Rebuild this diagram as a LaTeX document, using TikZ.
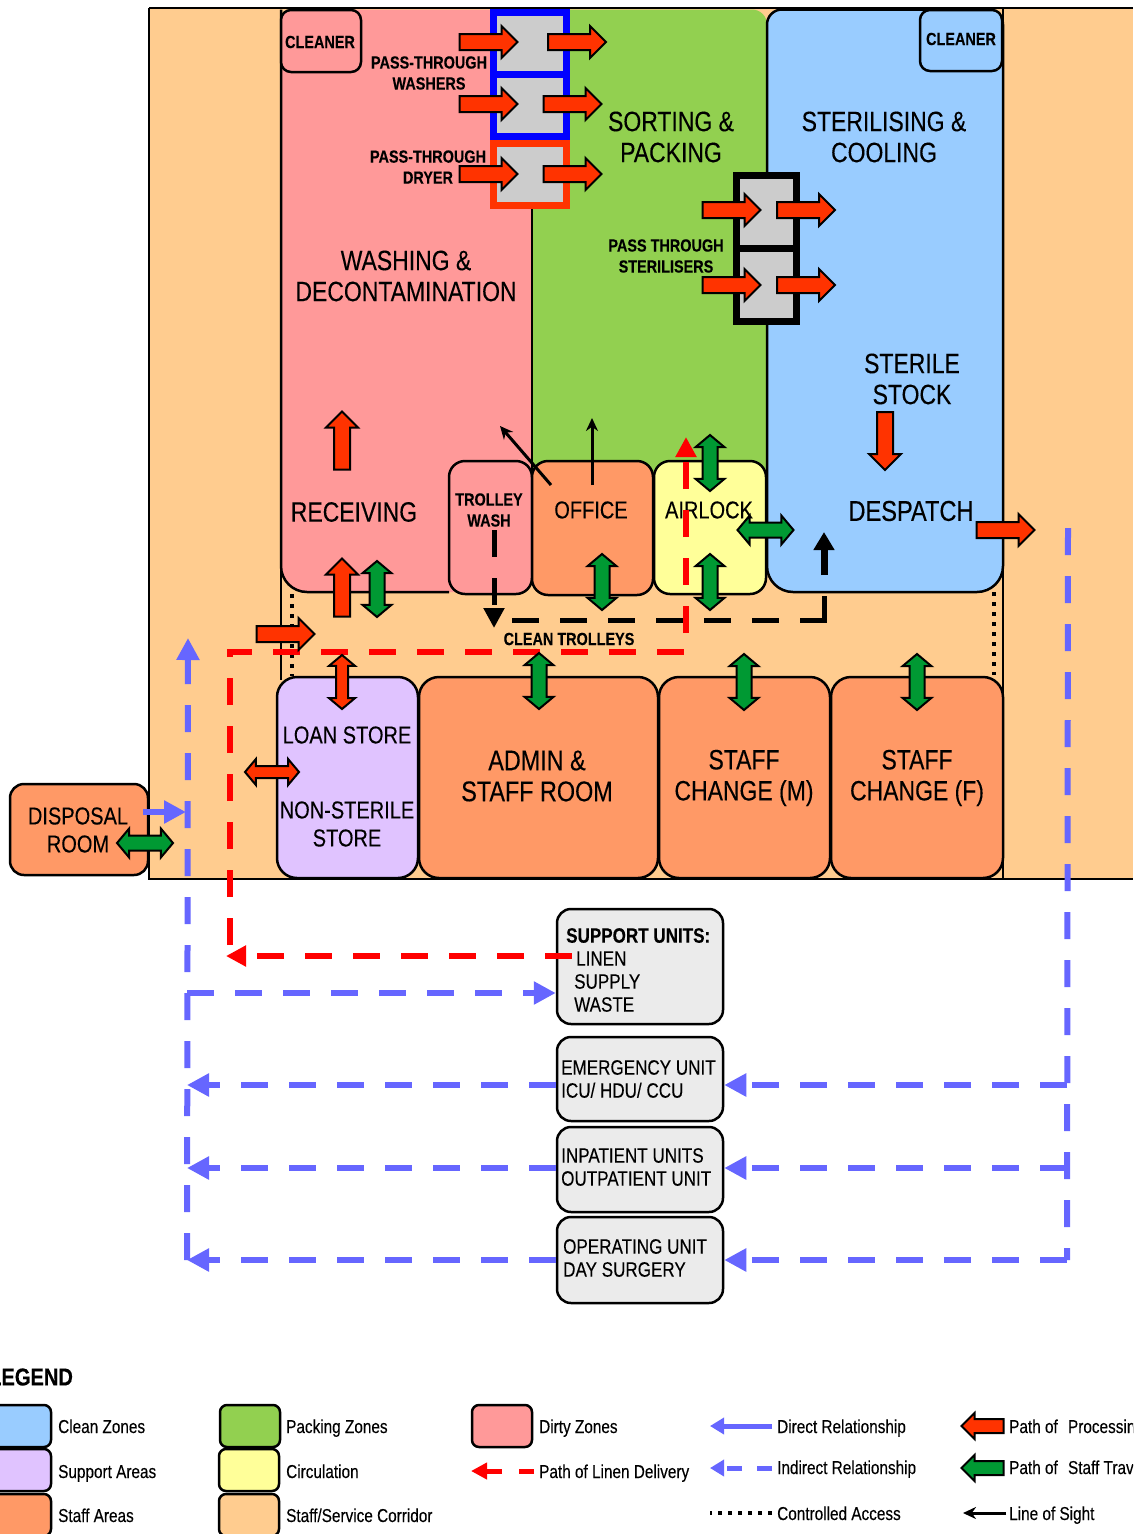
\documentclass[tikz,border=0pt]{standalone}
\usepackage{fontspec}
\setmainfont{Liberation Sans}[FakeStretch=0.82, FakeBold=0.2]
\usepackage{xcolor}
\usetikzlibrary{positioning, shapes.arrows, arrows.meta}
\definecolor{dirty}{HTML}{FF9999}
\definecolor{packing}{HTML}{92D050}
\definecolor{clean}{HTML}{99CCFF}
\definecolor{staff}{HTML}{FF9966}
\definecolor{circul}{HTML}{FFFF99}
\definecolor{support}{HTML}{E0C3FF}
\definecolor{corridor}{HTML}{FFCC8F}
\definecolor{process}{HTML}{FF3300}
\definecolor{travel}{HTML}{009933}
\definecolor{indirect}{HTML}{6666FF}

\begin{document}
\begin{tikzpicture}[
                x=1pt, y=-1pt,
                wall/.style={line width=2.5pt, black},
                room/.style={rectangle, draw=black, line width=2.5pt, rounded corners=20pt, inner sep=0pt},
                hatch_box/.style={rectangle, fill=black!20, line width=7pt, inner sep=0pt, minimum width=73pt},
                unit_box/.style={rectangle, draw=black, line width=2.5pt, rounded corners=14pt, fill=black!8, minimum width=166pt, inner sep=0pt},
                unit_text/.style={anchor=west, align=left, inner sep=0pt, font=\fontsize{20.8}{23}\selectfont},
                big_text/.style={align=center, inner sep=0pt, font=\fontsize{28}{31}\selectfont},
                mid_text/.style={align=center, inner sep=0pt, font=\fontsize{24.4}{30}\selectfont},
                small_text/.style={align=center, inner sep=0pt, font=\bfseries\fontsize{17.6}{21}\selectfont},
                key_text/.style={anchor=base west, inner sep=0pt, font=\fontsize{18.7}{20}\selectfont},
                key_box/.style={rectangle, draw=black, line width=2.5pt, rounded corners=7pt, minimum width=60pt, minimum height=42pt, inner sep=0pt},
                proc_arrow/.style={single arrow, draw=black, fill=process, line width=2pt, inner xsep=0pt, inner ysep=7pt, single arrow head extend=8pt, single arrow head indent=0pt, minimum height=58pt},
                proc_both/.style={double arrow, draw=black, fill=process, line width=2pt, inner xsep=0pt, inner ysep=5pt, double arrow head extend=7pt, double arrow tip angle=100, minimum height=54pt},
                travel_both/.style={double arrow, draw=black, fill=travel, line width=2pt, inner xsep=0pt, inner ysep=6.5pt, double arrow head extend=7pt, double arrow tip angle=100, minimum height=56pt},
                key_arrow/.style={single arrow, draw=black, line width=2pt, inner xsep=0pt, inner ysep=6pt, single arrow head extend=6pt, single arrow head indent=0pt, minimum height=42pt, shape border rotate=180},
                linen/.style={line width=6pt, red, dash pattern=on 27pt off 21pt},
                linen_tip/.style={-{Triangle[length=20pt,width=20pt]}},
                rel/.style={line width=6pt, indirect, dash pattern=on 27pt off 21pt},
                rel_tip/.style={-{Triangle[length=22pt,width=22pt]}},
                trolley/.style={line width=5pt, black, dash pattern=on 27pt off 21pt},
                access/.style={line width=4pt, black, dash pattern=on 4pt off 6pt},
                sight/.style={-{Stealth[length=13pt,width=12pt]}, line width=3pt, black}
            ]
                \useasboundingbox (0,0) rectangle (1133,1534);
                \clip (0,0) rectangle (1133,1534);

                % Corridor
                \fill[corridor] (149,8) rectangle (1133,879);
                \draw[wall] (149,8) -- (149,879) -- (1133,879);
                \draw[wall] (281,560) -- (281,680);
                \draw[wall] (1003,8) -- (1003,879);

                % Zones
                \fill[packing, rounded corners=15pt] (500,9.5) -- (767,9.5) -- (767,500) -- (500,500) -- cycle;
                \fill[dirty, rounded corners=26pt] (532,592) -- (281,592) -- (281,9.5) -- (532,9.5) -- cycle;
                \draw[wall] (149,8) -- (1133,8);
                \draw[wall, rounded corners=26pt] (449,592) -- (281,592) -- (281,9.5);
                \draw[wall] (532,205) -- (532,470);
                \draw[wall, fill=clean] (767,100) [rounded corners=15pt] -- (767,9.5) -- (1003,9.5) [rounded corners=26pt] -- (1003,592) -- (767,592) -- cycle;

                % Small rooms
                \node[room, fill=dirty, rounded corners=10pt, minimum width=80pt, minimum height=62pt] (cleaner_a) at (321,41) {};
                \node[room, fill=clean, rounded corners=10pt, minimum width=82pt, minimum height=61pt] (cleaner_b) at (961,40.5) {};
                \node[room, fill=dirty, rounded corners=16pt, minimum width=83pt, minimum height=133pt] (trolley_wash) at (490.5,527.5) {};
                \node[room, fill=staff, rounded corners=16pt, minimum width=121pt, minimum height=134pt] (office) at (592.5,528) {};
                \node[room, fill=circul, rounded corners=16pt, minimum width=112pt, minimum height=133pt] (airlock) at (710,527.5) {};
                \node[room, fill=support, minimum width=141pt, minimum height=201pt] (store) at (347.5,777.5) {};
                \node[room, fill=staff, minimum width=239pt, minimum height=201pt] (admin) at (538.5,777.5) {};
                \node[room, fill=staff, minimum width=171pt, minimum height=201pt] (change_m) at (744.5,777.5) {};
                \node[room, fill=staff, minimum width=172pt, minimum height=201pt] (change_f) at (917,777.5) {};
                \node[room, fill=staff, rounded corners=14pt, minimum width=138pt, minimum height=91pt] (disposal) at (79,829.5) {};

                % Pass through units
                \node[hatch_box, draw=blue, minimum height=62pt] (washer_a) at (530,43) {};
                \node[hatch_box, draw=blue, minimum height=62pt] (washer_b) at (530,105) {};
                \node[hatch_box, draw=process, minimum height=62pt] (dryer) at (530,174) {};
                \node[hatch_box, draw=black, minimum width=60.5pt, minimum height=73pt] (steril_a) at (766.5,212) {};
                \node[hatch_box, draw=black, minimum width=60.5pt, minimum height=73pt] (steril_b) at (766.5,285) {};

                % Support units
                \node[unit_box, minimum height=115pt] (units_support) at (640,966.5) {};
                \node[unit_box, minimum height=84pt] (units_emerg) at (640,1079) {};
                \node[unit_box, minimum height=85pt] (units_inpat) at (640,1169.5) {};
                \node[unit_box, minimum height=86pt] (units_oper) at (640,1260) {};
                \node[unit_text] (lbl_support) at (566,970) {\textbf{SUPPORT UNITS:}\\\hspace{10pt}LINEN\\\hspace{8pt}SUPPLY\\\hspace{8pt}WASTE};
                \node[unit_text] (lbl_emerg) at (561,1079) {EMERGENCY UNIT\\ICU/ HDU/ CCU};
                \node[unit_text] (lbl_inpat) at (561,1167) {INPATIENT UNITS\\OUTPATIENT UNIT};
                \node[unit_text] (lbl_oper) at (563,1258) {OPERATING UNIT\\DAY SURGERY};

                % Room labels
                \node[small_text] (lbl_cleaner_a) at (320,42) {CLEANER};
                \node[small_text] (lbl_cleaner_b) at (961,39) {CLEANER};
                \node[small_text] (lbl_washers) at (429,73) {PASS-THROUGH\\WASHERS};
                \node[small_text] (lbl_dryer) at (428,167) {PASS-THROUGH\\DRYER};
                \node[small_text] (lbl_sterilisers) at (666,256) {PASS THROUGH\\STERILISERS};
                \node[big_text] (lbl_sorting) at (671,137) {SORTING \&\\PACKING};
                \node[big_text] (lbl_sterilising) at (884,137) {STERILISING \&\\COOLING};
                \node[big_text] (lbl_washing) at (406,276) {WASHING \&\\DECONTAMINATION};
                \node[big_text] (lbl_stock) at (912,379) {STERILE\\STOCK};
                \node[big_text] (lbl_receiving) at (354,512) {RECEIVING};
                \node[big_text, font=\fontsize{28.8}{31}\selectfont] (lbl_despatch) at (911,511) {DESPATCH};
                \node[small_text] (lbl_trolley) at (489,510) {TROLLEY\\WASH};
                \node[mid_text] (lbl_office) at (591,510) {OFFICE};
                \node[mid_text] (lbl_airlock) at (709,510) {AIRLOCK};
                \node[small_text] (lbl_clean) at (569,639) {CLEAN TROLLEYS};
                \node[mid_text] (lbl_loan) at (347,735) {LOAN STORE};
                \node[mid_text, font=\fontsize{24.4}{28}\selectfont] (lbl_nonsterile) at (347,824) {NON-STERILE\\STORE};
                \node[big_text, font=\fontsize{28.5}{31}\selectfont] (lbl_admin) at (537,776) {ADMIN \&\\STAFF  ROOM};
                \node[big_text] (lbl_change_m) at (744,778) {STAFF\\CHANGE (M)};
                \node[big_text] (lbl_change_f) at (917,778) {STAFF\\CHANGE (F)};
                \node[mid_text, font=\fontsize{24.4}{28}\selectfont] (lbl_disposal) at (78,830) {DISPOSAL\\ROOM};

                % Dotted access lines
                \coordinate (dot_a) at (292,594);
                \coordinate (dot_b) at (292,676);
                \coordinate (dot_c) at (994,592);
                \coordinate (dot_d) at (994,675);
                \draw[access] (dot_a) -- (dot_b);
                \draw[access] (dot_c) -- (dot_d);

                % Clean trolleys
                \coordinate (trolley_a) at (824,596);
                \coordinate (trolley_v) at (824,622.5);
                \coordinate (trolley_b) at (826.5,620);
                \coordinate (trolley_c) at (507,620);
                \coordinate (trolley_d) at (494,530);
                \coordinate (trolley_e) at (494,628);
                \draw[trolley] (trolley_v) -- (trolley_a);
                \draw[trolley] (trolley_b) -- (trolley_c);
                \draw[trolley, -{Triangle[length=20pt,width=20pt]}] (trolley_d) -- (trolley_e);

                % Linen delivery
                \coordinate (linen_a) at (226,956);
                \coordinate (linen_b) at (230,945);
                \coordinate (linen_c) at (230,652);
                \coordinate (linen_d) at (686,652);
                \coordinate (linen_e) at (686,437);
                \draw[linen, linen_tip] (units_support.west |- linen_a) ++(16,0) -- (linen_a);
                \draw[linen, linen_tip] (linen_b) -- (linen_c) -- (linen_d) -- (linen_e);

                % Indirect relationships
                \coordinate (rail_r_top) at (1068,528);
                \coordinate (rail_r_em) at (1067,1085);
                \coordinate (rail_r_in) at (1067,1168);
                \coordinate (rail_r_op) at (1067,1260);
                \coordinate (rail_l_top) at (188,638);
                \coordinate (rail_l_sup) at (187,993);
                \coordinate (rail_l_em) at (187,1085);
                \coordinate (rail_l_in) at (187,1168);
                \coordinate (rail_l_op) at (187,1260);
                \draw[rel] (rail_r_top) -- (rail_r_op);
                \draw[rel, rel_tip] (rail_l_op) -- (rail_l_top);
                \draw[rel, rel_tip] (rail_l_sup) -- (rail_l_sup -| units_support.west);
                \draw[rel, rel_tip] (rail_r_em) -- (rail_r_em -| units_emerg.east);
                \draw[rel, rel_tip] (rail_r_in) -- (rail_r_in -| units_inpat.east);
                \draw[rel, rel_tip] (rail_r_op) -- (rail_r_op -| units_oper.east);
                \draw[rel, rel_tip] (rail_l_em -| units_emerg.west) -- (rail_l_em);
                \draw[rel, rel_tip] (rail_l_in -| units_inpat.west) -- (rail_l_in);
                \draw[rel, rel_tip] (rail_l_op -| units_oper.west) -- (rail_l_op);
                \coordinate (direct_a) at (143,812);
                \coordinate (direct_b) at (186,812);
                \draw[line width=6pt, indirect, rel_tip] (direct_a) -- (direct_b);

                % Lines of sight
                \coordinate (sight_a) at (551,485);
                \coordinate (sight_b) at (500,426);
                \coordinate (sight_c) at (592,485);
                \coordinate (sight_d) at (592,418);
                \coordinate (sight_e) at (824,575);
                \coordinate (sight_f) at (824,532);
                \draw[sight] (sight_a) -- (sight_b);
                \draw[sight] (sight_c) -- (sight_d);
                \draw[line width=7pt, -{Triangle[length=18pt,width=20pt]}] (sight_e) -- (sight_f);

                % Processing arrows
                \node[proc_arrow] (p_in_a) at (484.5,42) {};
                \node[proc_arrow] (p_out_a) at (573,42) {};
                \node[proc_arrow] (p_in_b) at (484.5,104) {};
                \node[proc_arrow] (p_out_b) at (568.5,104) {};
                \node[proc_arrow] (p_in_c) at (484.5,174) {};
                \node[proc_arrow] (p_out_c) at (568.5,174) {};
                \node[proc_arrow] (p_in_d) at (727.5,210) {};
                \node[proc_arrow] (p_out_d) at (802,210) {};
                \node[proc_arrow] (p_in_e) at (727.5,285) {};
                \node[proc_arrow] (p_out_e) at (802,285) {};
                \node[proc_arrow, rotate=90] (p_wash) at (342,444.5) {};
                \node[proc_arrow, rotate=90] (p_recv) at (342,591.5) {};
                \node[proc_arrow, rotate=-90] (p_stock) at (885,437) {};
                \node[proc_arrow] (p_desp) at (1001.5,530) {};
                \node[proc_arrow] (p_corr) at (281.5,634) {};
                \node[proc_both, rotate=90] (p_loan) at (342,682) {};
                \node[proc_both] (p_side) at (272,772) {};

                % Staff travel arrows
                \node[travel_both, rotate=90] (s_recv) at (377,589) {};
                \node[travel_both, rotate=90] (s_office) at (602,582) {};
                \node[travel_both, rotate=90] (s_green) at (710,463) {};
                \node[travel_both, rotate=90] (s_air) at (710,582) {};
                \node[travel_both, rotate=90] (s_admin) at (539,681) {};
                \node[travel_both, rotate=90] (s_male) at (744,682) {};
                \node[travel_both, rotate=90] (s_female) at (917,682) {};
                \node[travel_both] (s_clean) at (765.5,530) {};
                \node[travel_both] (s_disp) at (145,843) {};

                % Legend
                \node[anchor=west, inner sep=0pt, font=\bfseries\fontsize{24.5}{26}\selectfont] (key_title) at (-11,1377) {LEGEND};
                \node[key_box, fill=clean] (key_clean) at (21,1426) {};
                \node[key_box, fill=support] (key_support) at (21,1470) {};
                \node[key_box, fill=staff] (key_staff) at (21,1515) {};
                \node[key_box, fill=packing] (key_packing) at (250,1426) {};
                \node[key_box, fill=circul] (key_circ) at (249,1470) {};
                \node[key_box, fill=corridor] (key_corr) at (249,1515) {};
                \node[key_box, fill=dirty] (key_dirty) at (502,1426) {};
                \node[key_text] (t_clean) at (58,1433) {Clean Zones};
                \node[key_text] (t_support) at (58,1478) {Support Areas};
                \node[key_text] (t_staff) at (58,1522) {Staff Areas};
                \node[key_text] (t_packing) at (286,1433) {Packing Zones};
                \node[key_text] (t_circ) at (286,1478) {Circulation};
                \node[key_text] (t_corr) at (286,1522) {Staff/Service Corridor};
                \node[key_text] (t_dirty) at (539,1433) {Dirty Zones};
                \node[key_text] (t_linen) at (539,1478) {Path of Linen Delivery};
                \node[key_text] (t_direct) at (777,1433) {Direct Relationship};
                \node[key_text] (t_indirect) at (777,1474) {Indirect Relationship};
                \node[key_text] (t_access) at (777,1520) {Controlled Access};
                \node[key_text] (t_process) at (1009,1433) {Path of\hspace{6pt} Processing};
                \node[key_text] (t_travel) at (1009,1474) {Path of\hspace{6pt} Staff Travel};
                \node[key_text] (t_sight) at (1009,1520) {Line of Sight};

                \coordinate (k_a) at (534,1471);
                \coordinate (k_b) at (471,1471);
                \coordinate (k_c) at (772,1426);
                \coordinate (k_d) at (710,1426);
                \coordinate (k_e) at (772,1468);
                \coordinate (k_f) at (710,1468);
                \coordinate (k_g) at (772,1513);
                \coordinate (k_h) at (710,1513);
                \coordinate (k_i) at (1006,1513);
                \coordinate (k_j) at (963,1513);
                \draw[line width=5pt, red, dash pattern=on 15pt off 17pt, -{Triangle[length=16pt,width=16pt]}] (k_a) -- (k_b);
                \draw[line width=5pt, indirect, -{Triangle[length=14pt,width=16pt]}] (k_c) -- (k_d);
                \draw[line width=5pt, indirect, dash pattern=on 15pt off 15pt, -{Triangle[length=14pt,width=16pt]}] (k_e) -- (k_f);
                \draw[access] (k_g) -- (k_h);
                \draw[sight] (k_i) -- (k_j);
                \node[key_arrow, fill=process] (k_proc) at (986,1426) {};
                \node[key_arrow, fill=travel] (k_stf) at (986,1468) {};
            \end{tikzpicture}
\end{document}
